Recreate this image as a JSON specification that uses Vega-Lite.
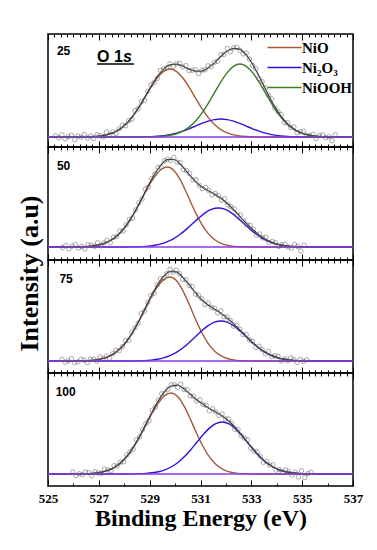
{
"$schema": "https://vega.github.io/schema/vega-lite/v6.json",
"background": "white",
"padding": {"left": 15, "top": 32, "right": 0, "bottom": 0},
"spacing": 0,
"bounds": "flush",
"datasets": {
"lines": [
{"p":"25","x":525,"NiO":0,"Ni2O3":0,"NiOOH":0,"fit":0},
{"p":"25","x":526.05,"NiO":0,"Ni2O3":0,"NiOOH":0,"fit":0},
{"p":"25","x":526.3,"NiO":0.1,"Ni2O3":0,"NiOOH":0,"fit":0.1},
{"p":"25","x":526.55,"NiO":0.2,"Ni2O3":0,"NiOOH":0,"fit":0.2},
{"p":"25","x":526.8,"NiO":0.5,"Ni2O3":0,"NiOOH":0,"fit":0.5},
{"p":"25","x":527.05,"NiO":1.0,"Ni2O3":0,"NiOOH":0,"fit":1.0},
{"p":"25","x":527.3,"NiO":2.1,"Ni2O3":0,"NiOOH":0,"fit":2.1},
{"p":"25","x":527.55,"NiO":4.1,"Ni2O3":0,"NiOOH":0,"fit":4.1},
{"p":"25","x":527.8,"NiO":7.4,"Ni2O3":0,"NiOOH":0,"fit":7.4},
{"p":"25","x":528.05,"NiO":12.4,"Ni2O3":0,"NiOOH":0,"fit":12.4},
{"p":"25","x":528.3,"NiO":19.6,"Ni2O3":0,"NiOOH":0,"fit":19.6},
{"p":"25","x":528.55,"NiO":28.6,"Ni2O3":0.1,"NiOOH":0,"fit":28.7},
{"p":"25","x":528.8,"NiO":39.1,"Ni2O3":0.2,"NiOOH":0.1,"fit":39.4},
{"p":"25","x":529.05,"NiO":49.8,"Ni2O3":0.4,"NiOOH":0.2,"fit":50.4},
{"p":"25","x":529.3,"NiO":59.2,"Ni2O3":0.8,"NiOOH":0.4,"fit":60.4},
{"p":"25","x":529.55,"NiO":65.7,"Ni2O3":1.4,"NiOOH":0.8,"fit":67.9},
{"p":"25","x":529.8,"NiO":68,"Ni2O3":2.4,"NiOOH":1.7,"fit":72.1},
{"p":"25","x":530.05,"NiO":65.7,"Ni2O3":3.9,"NiOOH":3.2,"fit":72.8},
{"p":"25","x":530.3,"NiO":59.2,"Ni2O3":5.8,"NiOOH":5.8,"fit":70.8},
{"p":"25","x":530.55,"NiO":49.8,"Ni2O3":8.2,"NiOOH":9.9,"fit":67.9},
{"p":"25","x":530.8,"NiO":39.1,"Ni2O3":10.9,"NiOOH":15.8,"fit":65.8},
{"p":"25","x":531.05,"NiO":28.6,"Ni2O3":13.6,"NiOOH":23.7,"fit":65.9},
{"p":"25","x":531.3,"NiO":19.6,"Ni2O3":15.9,"NiOOH":33.4,"fit":68.9},
{"p":"25","x":531.55,"NiO":12.4,"Ni2O3":17.4,"NiOOH":44.3,"fit":74.1},
{"p":"25","x":531.8,"NiO":7.4,"Ni2O3":18,"NiOOH":55.1,"fit":80.5},
{"p":"25","x":532.05,"NiO":4.1,"Ni2O3":17.4,"NiOOH":64.4,"fit":85.9},
{"p":"25","x":532.3,"NiO":2.1,"Ni2O3":15.9,"NiOOH":70.7,"fit":88.7},
{"p":"25","x":532.55,"NiO":1.0,"Ni2O3":13.6,"NiOOH":73,"fit":87.6},
{"p":"25","x":532.8,"NiO":0.5,"Ni2O3":10.9,"NiOOH":70.7,"fit":82.1},
{"p":"25","x":533.05,"NiO":0.2,"Ni2O3":8.2,"NiOOH":64.4,"fit":72.8},
{"p":"25","x":533.3,"NiO":0.1,"Ni2O3":5.8,"NiOOH":55.1,"fit":61.0},
{"p":"25","x":533.55,"NiO":0,"Ni2O3":3.9,"NiOOH":44.3,"fit":48.2},
{"p":"25","x":533.8,"NiO":0,"Ni2O3":2.4,"NiOOH":33.4,"fit":35.8},
{"p":"25","x":534.05,"NiO":0,"Ni2O3":1.4,"NiOOH":23.7,"fit":25.1},
{"p":"25","x":534.3,"NiO":0,"Ni2O3":0.8,"NiOOH":15.8,"fit":16.6},
{"p":"25","x":534.55,"NiO":0,"Ni2O3":0.4,"NiOOH":9.9,"fit":10.3},
{"p":"25","x":534.8,"NiO":0,"Ni2O3":0.2,"NiOOH":5.8,"fit":6.0},
{"p":"25","x":535.05,"NiO":0,"Ni2O3":0.1,"NiOOH":3.2,"fit":3.3},
{"p":"25","x":535.3,"NiO":0,"Ni2O3":0,"NiOOH":1.7,"fit":1.7},
{"p":"25","x":535.55,"NiO":0,"Ni2O3":0,"NiOOH":0.8,"fit":0.8},
{"p":"25","x":535.8,"NiO":0,"Ni2O3":0,"NiOOH":0.4,"fit":0.4},
{"p":"25","x":536.05,"NiO":0,"Ni2O3":0,"NiOOH":0.2,"fit":0.2},
{"p":"25","x":536.3,"NiO":0,"Ni2O3":0,"NiOOH":0.1,"fit":0.1},
{"p":"25","x":537,"NiO":0,"Ni2O3":0,"NiOOH":0,"fit":0},
{"p":"50","x":525,"NiO":0,"Ni2O3":0,"fit":0},
{"p":"50","x":525.7,"NiO":0,"Ni2O3":0,"fit":0},
{"p":"50","x":525.95,"NiO":0.1,"Ni2O3":0,"fit":0.1},
{"p":"50","x":526.2,"NiO":0.2,"Ni2O3":0,"fit":0.2},
{"p":"50","x":526.45,"NiO":0.4,"Ni2O3":0,"fit":0.4},
{"p":"50","x":526.7,"NiO":0.9,"Ni2O3":0,"fit":0.9},
{"p":"50","x":526.95,"NiO":1.8,"Ni2O3":0,"fit":1.8},
{"p":"50","x":527.2,"NiO":3.5,"Ni2O3":0,"fit":3.5},
{"p":"50","x":527.45,"NiO":6.4,"Ni2O3":0,"fit":6.4},
{"p":"50","x":527.7,"NiO":10.8,"Ni2O3":0,"fit":10.8},
{"p":"50","x":527.95,"NiO":17.3,"Ni2O3":0,"fit":17.3},
{"p":"50","x":528.2,"NiO":26.0,"Ni2O3":0.1,"fit":26.1},
{"p":"50","x":528.45,"NiO":36.6,"Ni2O3":0.2,"fit":36.8},
{"p":"50","x":528.7,"NiO":48.5,"Ni2O3":0.4,"fit":48.9},
{"p":"50","x":528.95,"NiO":60.4,"Ni2O3":0.9,"fit":61.8},
{"p":"50","x":529.2,"NiO":70.6,"Ni2O3":1.7,"fit":73.3},
{"p":"50","x":529.45,"NiO":77.5,"Ni2O3":3.1,"fit":82.1},
{"p":"50","x":529.7,"NiO":80,"Ni2O3":5.3,"fit":87.3},
{"p":"50","x":529.95,"NiO":76.6,"Ni2O3":8.4,"fit":87.5},
{"p":"50","x":530.2,"NiO":67.3,"Ni2O3":12.7,"fit":83.0},
{"p":"50","x":530.45,"NiO":54.2,"Ni2O3":17.9,"fit":75.6},
{"p":"50","x":530.7,"NiO":40.0,"Ni2O3":23.7,"fit":68.2},
{"p":"50","x":530.95,"NiO":27.1,"Ni2O3":29.4,"fit":62.0},
{"p":"50","x":531.2,"NiO":16.9,"Ni2O3":34.4,"fit":57.8},
{"p":"50","x":531.45,"NiO":9.6,"Ni2O3":37.8,"fit":54.4},
{"p":"50","x":531.7,"NiO":5.0,"Ni2O3":39,"fit":50.5},
{"p":"50","x":531.95,"NiO":2.4,"Ni2O3":37.8,"fit":45.7},
{"p":"50","x":532.2,"NiO":1.1,"Ni2O3":34.4,"fit":40.0},
{"p":"50","x":532.45,"NiO":0.4,"Ni2O3":29.4,"fit":33.3},
{"p":"50","x":532.7,"NiO":0.2,"Ni2O3":23.7,"fit":26.4},
{"p":"50","x":532.95,"NiO":0.1,"Ni2O3":17.9,"fit":20.0},
{"p":"50","x":533.2,"NiO":0,"Ni2O3":12.7,"fit":14.2},
{"p":"50","x":533.45,"NiO":0,"Ni2O3":8.4,"fit":9.4},
{"p":"50","x":533.7,"NiO":0,"Ni2O3":5.3,"fit":5.9},
{"p":"50","x":533.95,"NiO":0,"Ni2O3":3.1,"fit":3.4},
{"p":"50","x":534.2,"NiO":0,"Ni2O3":1.7,"fit":1.8},
{"p":"50","x":534.45,"NiO":0,"Ni2O3":0.9,"fit":0.9},
{"p":"50","x":534.7,"NiO":0,"Ni2O3":0.4,"fit":0.4},
{"p":"50","x":534.95,"NiO":0,"Ni2O3":0.2,"fit":0.2},
{"p":"50","x":535.2,"NiO":0,"Ni2O3":0.1,"fit":0.1},
{"p":"50","x":535.45,"NiO":0,"Ni2O3":0,"fit":0},
{"p":"50","x":537,"NiO":0,"Ni2O3":0,"fit":0},
{"p":"75","x":525,"NiO":0,"Ni2O3":0,"fit":0},
{"p":"75","x":525.8,"NiO":0,"Ni2O3":0,"fit":0},
{"p":"75","x":526.05,"NiO":0.1,"Ni2O3":0,"fit":0.1},
{"p":"75","x":526.3,"NiO":0.2,"Ni2O3":0,"fit":0.2},
{"p":"75","x":526.55,"NiO":0.4,"Ni2O3":0,"fit":0.4},
{"p":"75","x":526.8,"NiO":0.9,"Ni2O3":0,"fit":0.9},
{"p":"75","x":527.05,"NiO":1.9,"Ni2O3":0,"fit":1.9},
{"p":"75","x":527.3,"NiO":3.7,"Ni2O3":0,"fit":3.7},
{"p":"75","x":527.55,"NiO":6.7,"Ni2O3":0,"fit":6.7},
{"p":"75","x":527.8,"NiO":11.4,"Ni2O3":0,"fit":11.4},
{"p":"75","x":528.05,"NiO":18.2,"Ni2O3":0,"fit":18.2},
{"p":"75","x":528.3,"NiO":27.3,"Ni2O3":0.1,"fit":27.4},
{"p":"75","x":528.55,"NiO":38.5,"Ni2O3":0.2,"fit":38.7},
{"p":"75","x":528.8,"NiO":50.9,"Ni2O3":0.4,"fit":51.3},
{"p":"75","x":529.05,"NiO":63.4,"Ni2O3":0.9,"fit":64.3},
{"p":"75","x":529.3,"NiO":74.1,"Ni2O3":1.8,"fit":75.9},
{"p":"75","x":529.55,"NiO":81.4,"Ni2O3":3.2,"fit":84.6},
{"p":"75","x":529.8,"NiO":84,"Ni2O3":5.4,"fit":89.4},
{"p":"75","x":530.05,"NiO":80.5,"Ni2O3":8.7,"fit":89.2},
{"p":"75","x":530.3,"NiO":70.6,"Ni2O3":13.0,"fit":83.6},
{"p":"75","x":530.55,"NiO":57.0,"Ni2O3":18.3,"fit":76.3},
{"p":"75","x":530.8,"NiO":42.0,"Ni2O3":24.3,"fit":68.3},
{"p":"75","x":531.05,"NiO":28.5,"Ni2O3":30.2,"fit":61.2},
{"p":"75","x":531.3,"NiO":17.7,"Ni2O3":35.3,"fit":56.0},
{"p":"75","x":531.55,"NiO":10.1,"Ni2O3":38.8,"fit":51.9},
{"p":"75","x":531.8,"NiO":5.3,"Ni2O3":40,"fit":47.8},
{"p":"75","x":532.05,"NiO":2.5,"Ni2O3":38.8,"fit":42.8},
{"p":"75","x":532.3,"NiO":1.1,"Ni2O3":35.3,"fit":37.4},
{"p":"75","x":532.55,"NiO":0.4,"Ni2O3":30.2,"fit":31.1},
{"p":"75","x":532.8,"NiO":0.2,"Ni2O3":24.3,"fit":24.5},
{"p":"75","x":533.05,"NiO":0.1,"Ni2O3":18.3,"fit":18.4},
{"p":"75","x":533.3,"NiO":0,"Ni2O3":13.0,"fit":13.0},
{"p":"75","x":533.55,"NiO":0,"Ni2O3":8.7,"fit":8.7},
{"p":"75","x":533.8,"NiO":0,"Ni2O3":5.4,"fit":5.4},
{"p":"75","x":534.05,"NiO":0,"Ni2O3":3.2,"fit":3.2},
{"p":"75","x":534.3,"NiO":0,"Ni2O3":1.8,"fit":1.8},
{"p":"75","x":534.55,"NiO":0,"Ni2O3":0.9,"fit":0.9},
{"p":"75","x":534.8,"NiO":0,"Ni2O3":0.4,"fit":0.4},
{"p":"75","x":535.05,"NiO":0,"Ni2O3":0.2,"fit":0.2},
{"p":"75","x":535.3,"NiO":0,"Ni2O3":0.1,"fit":0.1},
{"p":"75","x":535.55,"NiO":0,"Ni2O3":0,"fit":0},
{"p":"75","x":537,"NiO":0,"Ni2O3":0,"fit":0},
{"p":"100","x":525,"NiO":0,"Ni2O3":0,"fit":0},
{"p":"100","x":525.85,"NiO":0,"Ni2O3":0,"fit":0},
{"p":"100","x":526.1,"NiO":0.1,"Ni2O3":0,"fit":0.1},
{"p":"100","x":526.35,"NiO":0.2,"Ni2O3":0,"fit":0.2},
{"p":"100","x":526.6,"NiO":0.4,"Ni2O3":0,"fit":0.4},
{"p":"100","x":526.85,"NiO":0.9,"Ni2O3":0,"fit":0.9},
{"p":"100","x":527.1,"NiO":1.8,"Ni2O3":0,"fit":1.8},
{"p":"100","x":527.35,"NiO":3.6,"Ni2O3":0,"fit":3.6},
{"p":"100","x":527.6,"NiO":6.4,"Ni2O3":0,"fit":6.4},
{"p":"100","x":527.85,"NiO":11.0,"Ni2O3":0,"fit":11.0},
{"p":"100","x":528.1,"NiO":17.5,"Ni2O3":0,"fit":17.5},
{"p":"100","x":528.35,"NiO":26.3,"Ni2O3":0.1,"fit":26.4},
{"p":"100","x":528.6,"NiO":37.1,"Ni2O3":0.3,"fit":37.4},
{"p":"100","x":528.85,"NiO":49.1,"Ni2O3":0.6,"fit":49.7},
{"p":"100","x":529.1,"NiO":61.1,"Ni2O3":1.2,"fit":62.3},
{"p":"100","x":529.35,"NiO":71.5,"Ni2O3":2.3,"fit":73.8},
{"p":"100","x":529.6,"NiO":78.5,"Ni2O3":4.1,"fit":82.6},
{"p":"100","x":529.85,"NiO":81,"Ni2O3":7.0,"fit":88.0},
{"p":"100","x":530.1,"NiO":77.6,"Ni2O3":11.2,"fit":88.8},
{"p":"100","x":530.35,"NiO":68.1,"Ni2O3":16.9,"fit":85.0},
{"p":"100","x":530.6,"NiO":54.9,"Ni2O3":23.8,"fit":79.7},
{"p":"100","x":530.85,"NiO":40.5,"Ni2O3":31.5,"fit":74.0},
{"p":"100","x":531.1,"NiO":27.5,"Ni2O3":39.2,"fit":69.7},
{"p":"100","x":531.35,"NiO":17.1,"Ni2O3":45.9,"fit":65.5},
{"p":"100","x":531.6,"NiO":9.7,"Ni2O3":50.4,"fit":62.1},
{"p":"100","x":531.85,"NiO":5.1,"Ni2O3":52,"fit":58.1},
{"p":"100","x":532.1,"NiO":2.4,"Ni2O3":50.4,"fit":53.3},
{"p":"100","x":532.35,"NiO":1.1,"Ni2O3":45.9,"fit":47.0},
{"p":"100","x":532.6,"NiO":0.4,"Ni2O3":39.2,"fit":39.6},
{"p":"100","x":532.85,"NiO":0.2,"Ni2O3":31.5,"fit":31.7},
{"p":"100","x":533.1,"NiO":0.1,"Ni2O3":23.8,"fit":23.9},
{"p":"100","x":533.35,"NiO":0,"Ni2O3":16.9,"fit":16.9},
{"p":"100","x":533.6,"NiO":0,"Ni2O3":11.2,"fit":11.2},
{"p":"100","x":533.85,"NiO":0,"Ni2O3":7.0,"fit":7.0},
{"p":"100","x":534.1,"NiO":0,"Ni2O3":4.1,"fit":4.1},
{"p":"100","x":534.35,"NiO":0,"Ni2O3":2.3,"fit":2.3},
{"p":"100","x":534.6,"NiO":0,"Ni2O3":1.2,"fit":1.2},
{"p":"100","x":534.85,"NiO":0,"Ni2O3":0.6,"fit":0.6},
{"p":"100","x":535.1,"NiO":0,"Ni2O3":0.3,"fit":0.3},
{"p":"100","x":535.35,"NiO":0,"Ni2O3":0.1,"fit":0.1},
{"p":"100","x":535.6,"NiO":0,"Ni2O3":0,"fit":0},
{"p":"100","x":537,"NiO":0,"Ni2O3":0,"fit":0}
],
"pts": [
{"p":"25","x":525.3,"y":1.2},{"p":"25","x":525.425,"y":-0.8},{"p":"25","x":525.55,"y":2.1},{"p":"25","x":525.675,"y":-1.9},{"p":"25","x":525.8,"y":0.4},{"p":"25","x":525.925,"y":1.8},{"p":"25","x":526.05,"y":-2.6},{"p":"25","x":526.175,"y":1.0},{"p":"25","x":526.3,"y":-0.2},{"p":"25","x":526.425,"y":2.6},{"p":"25","x":526.55,"y":-1.0},{"p":"25","x":526.675,"y":1.0},{"p":"25","x":526.8,"y":-1.5},{"p":"25","x":526.925,"y":2.3},{"p":"25","x":527.05,"y":1.2},{"p":"25","x":527.175,"y":0.2},{"p":"25","x":527.3,"y":4.8},{"p":"25","x":527.425,"y":2.5},{"p":"25","x":527.55,"y":5.1},{"p":"25","x":527.675,"y":3.5},{"p":"25","x":527.8,"y":8.1},{"p":"25","x":527.925,"y":11.8},{"p":"25","x":528.05,"y":11.3},{"p":"25","x":528.175,"y":16.3},{"p":"25","x":528.3,"y":17.9},{"p":"25","x":528.425,"y":26.4},{"p":"25","x":528.55,"y":28.3},{"p":"25","x":528.675,"y":35.3},{"p":"25","x":528.8,"y":36.9},{"p":"25","x":528.925,"y":45.7},{"p":"25","x":529.05,"y":52.0},{"p":"25","x":529.175,"y":54.5},{"p":"25","x":529.3,"y":58.6},{"p":"25","x":529.425,"y":66.7},{"p":"25","x":529.55,"y":68.0},{"p":"25","x":529.675,"y":69.0},{"p":"25","x":529.8,"y":73.2},{"p":"25","x":529.925,"y":70.5},{"p":"25","x":530.05,"y":73.3},{"p":"25","x":530.175,"y":73.6},{"p":"25","x":530.3,"y":70.1},{"p":"25","x":530.425,"y":71.4},{"p":"25","x":530.55,"y":66.3},{"p":"25","x":530.675,"y":66.8},{"p":"25","x":530.8,"y":67.2},{"p":"25","x":530.925,"y":63.4},{"p":"25","x":531.05,"y":66.8},{"p":"25","x":531.175,"y":67.2},{"p":"25","x":531.3,"y":71.2},{"p":"25","x":531.425,"y":70.5},{"p":"25","x":531.55,"y":74.7},{"p":"25","x":531.675,"y":75.8},{"p":"25","x":531.8,"y":82.3},{"p":"25","x":531.925,"y":82.7},{"p":"25","x":532.05,"y":88.5},{"p":"25","x":532.175,"y":85.2},{"p":"25","x":532.3,"y":89.0},{"p":"25","x":532.425,"y":89.6},{"p":"25","x":532.55,"y":86.8},{"p":"25","x":532.675,"y":83.1},{"p":"25","x":532.8,"y":84.1},{"p":"25","x":532.925,"y":77.9},{"p":"25","x":533.05,"y":71.6},{"p":"25","x":533.175,"y":68.4},{"p":"25","x":533.3,"y":58.3},{"p":"25","x":533.425,"y":55.3},{"p":"25","x":533.55,"y":49.2},{"p":"25","x":533.675,"y":41.7},{"p":"25","x":533.8,"y":38.0},{"p":"25","x":533.925,"y":29.1},{"p":"25","x":534.05,"y":25.3},{"p":"25","x":534.175,"y":22.5},{"p":"25","x":534.3,"y":14.6},{"p":"25","x":534.425,"y":14.3},{"p":"25","x":534.55,"y":9.7},{"p":"25","x":534.675,"y":10.1},{"p":"25","x":534.8,"y":4.3},{"p":"25","x":534.925,"y":5.2},{"p":"25","x":535.05,"y":5.7},{"p":"25","x":535.175,"y":1.4},{"p":"25","x":535.3,"y":1.3},{"p":"25","x":535.425,"y":2.6},{"p":"25","x":535.55,"y":-1.5},{"p":"25","x":535.675,"y":1.5},{"p":"25","x":535.8,"y":2.1},{"p":"25","x":535.925,"y":-0.6},{"p":"25","x":536.05,"y":0.3},{"p":"25","x":536.175,"y":-3.5},{"p":"25","x":536.3,"y":2.2},
{"p":"50","x":525.575,"y":-0.5},{"p":"50","x":525.7,"y":1.4},{"p":"50","x":525.825,"y":-1.8},{"p":"50","x":525.95,"y":0.8},{"p":"50","x":526.075,"y":2.4},{"p":"50","x":526.2,"y":-0.9},{"p":"50","x":526.325,"y":0.6},{"p":"50","x":526.45,"y":-2.0},{"p":"50","x":526.575,"y":2.3},{"p":"50","x":526.7,"y":1.8},{"p":"50","x":526.825,"y":0.7},{"p":"50","x":526.95,"y":4.3},{"p":"50","x":527.075,"y":1.2},{"p":"50","x":527.2,"y":3.9},{"p":"50","x":527.325,"y":6.8},{"p":"50","x":527.45,"y":4.3},{"p":"50","x":527.575,"y":9.7},{"p":"50","x":527.7,"y":10.5},{"p":"50","x":527.825,"y":16.1},{"p":"50","x":527.95,"y":16.0},{"p":"50","x":528.075,"y":22.3},{"p":"50","x":528.2,"y":27.6},{"p":"50","x":528.325,"y":28.9},{"p":"50","x":528.45,"y":37.0},{"p":"50","x":528.575,"y":44.1},{"p":"50","x":528.7,"y":48.0},{"p":"50","x":528.825,"y":57.8},{"p":"50","x":528.95,"y":60.1},{"p":"50","x":529.075,"y":68.4},{"p":"50","x":529.2,"y":72.9},{"p":"50","x":529.325,"y":79.6},{"p":"50","x":529.45,"y":79.9},{"p":"50","x":529.575,"y":86.2},{"p":"50","x":529.7,"y":87.8},{"p":"50","x":529.825,"y":86.5},{"p":"50","x":529.95,"y":89.6},{"p":"50","x":530.075,"y":84.9},{"p":"50","x":530.2,"y":84.3},{"p":"50","x":530.325,"y":77.3},{"p":"50","x":530.45,"y":76.3},{"p":"50","x":530.575,"y":73.5},{"p":"50","x":530.7,"y":67.2},{"p":"50","x":530.825,"y":67.4},{"p":"50","x":530.95,"y":61.8},{"p":"50","x":531.075,"y":58.3},{"p":"50","x":531.2,"y":59.5},{"p":"50","x":531.325,"y":56.5},{"p":"50","x":531.45,"y":52.1},{"p":"50","x":531.575,"y":53.6},{"p":"50","x":531.7,"y":51.4},{"p":"50","x":531.825,"y":46.9},{"p":"50","x":531.95,"y":48.3},{"p":"50","x":532.075,"y":42.1},{"p":"50","x":532.2,"y":40.3},{"p":"50","x":532.325,"y":38.1},{"p":"50","x":532.45,"y":31.4},{"p":"50","x":532.575,"y":31.9},{"p":"50","x":532.7,"y":25.9},{"p":"50","x":532.825,"y":22.1},{"p":"50","x":532.95,"y":21.8},{"p":"50","x":533.075,"y":17.7},{"p":"50","x":533.2,"y":11.8},{"p":"50","x":533.325,"y":13.0},{"p":"50","x":533.45,"y":9.1},{"p":"50","x":533.575,"y":9.9},{"p":"50","x":533.7,"y":4.4},{"p":"50","x":533.825,"y":5.5},{"p":"50","x":533.95,"y":4.4},{"p":"50","x":534.075,"y":0.6},{"p":"50","x":534.2,"y":2.3},{"p":"50","x":534.325,"y":2.9},{"p":"50","x":534.45,"y":0.0},{"p":"50","x":534.575,"y":-1.1},{"p":"50","x":534.7,"y":2.7},{"p":"50","x":534.825,"y":0.5},{"p":"50","x":534.95,"y":-4.0},{"p":"50","x":535.075,"y":1.8},
{"p":"75","x":525.55,"y":1.6},{"p":"75","x":525.675,"y":-1.2},{"p":"75","x":525.8,"y":0.2},{"p":"75","x":525.925,"y":2.4},{"p":"75","x":526.05,"y":-1.6},{"p":"75","x":526.175,"y":-0.8},{"p":"75","x":526.3,"y":1.7},{"p":"75","x":526.425,"y":0.8},{"p":"75","x":526.55,"y":-1.6},{"p":"75","x":526.675,"y":1.7},{"p":"75","x":526.8,"y":1.7},{"p":"75","x":526.925,"y":-0.1},{"p":"75","x":527.05,"y":4.1},{"p":"75","x":527.175,"y":2.5},{"p":"75","x":527.3,"y":4.9},{"p":"75","x":527.425,"y":2.8},{"p":"75","x":527.55,"y":7.3},{"p":"75","x":527.675,"y":10.9},{"p":"75","x":527.8,"y":10.3},{"p":"75","x":527.925,"y":14.3},{"p":"75","x":528.05,"y":20.2},{"p":"75","x":528.175,"y":20.9},{"p":"75","x":528.3,"y":28.8},{"p":"75","x":528.425,"y":33.4},{"p":"75","x":528.55,"y":37.9},{"p":"75","x":528.675,"y":47.6},{"p":"75","x":528.8,"y":50.1},{"p":"75","x":528.925,"y":58.7},{"p":"75","x":529.05,"y":65.4},{"p":"75","x":529.175,"y":67.8},{"p":"75","x":529.3,"y":76.3},{"p":"75","x":529.425,"y":82.0},{"p":"75","x":529.55,"y":83.0},{"p":"75","x":529.675,"y":87.3},{"p":"75","x":529.8,"y":91.7},{"p":"75","x":529.925,"y":88.8},{"p":"75","x":530.05,"y":90.8},{"p":"75","x":530.175,"y":87.3},{"p":"75","x":530.3,"y":81.6},{"p":"75","x":530.425,"y":81.3},{"p":"75","x":530.55,"y":75.7},{"p":"75","x":530.675,"y":74.4},{"p":"75","x":530.8,"y":66.9},{"p":"75","x":530.925,"y":65.3},{"p":"75","x":531.05,"y":62.2},{"p":"75","x":531.175,"y":56.4},{"p":"75","x":531.3,"y":57.9},{"p":"75","x":531.425,"y":53.6},{"p":"75","x":531.55,"y":52.7},{"p":"75","x":531.675,"y":48.2},{"p":"75","x":531.8,"y":50.2},{"p":"75","x":531.925,"y":44.4},{"p":"75","x":532.05,"y":44.0},{"p":"75","x":532.175,"y":40.3},{"p":"75","x":532.3,"y":34.8},{"p":"75","x":532.425,"y":35.8},{"p":"75","x":532.55,"y":31.7},{"p":"75","x":532.675,"y":26.5},{"p":"75","x":532.8,"y":26.5},{"p":"75","x":532.925,"y":21.2},{"p":"75","x":533.05,"y":19.5},{"p":"75","x":533.175,"y":13.6},{"p":"75","x":533.3,"y":14.8},{"p":"75","x":533.425,"y":11.3},{"p":"75","x":533.55,"y":7.2},{"p":"75","x":533.675,"y":9.6},{"p":"75","x":533.8,"y":4.7},{"p":"75","x":533.925,"y":5.2},{"p":"75","x":534.05,"y":4.8},{"p":"75","x":534.175,"y":0.1},{"p":"75","x":534.3,"y":2.1},{"p":"75","x":534.425,"y":0.3},{"p":"75","x":534.55,"y":3.1},{"p":"75","x":534.675,"y":1.4},{"p":"75","x":534.8,"y":-1.4},{"p":"75","x":534.925,"y":1.7},{"p":"75","x":535.05,"y":-0.3},{"p":"75","x":535.175,"y":1.2},
{"p":"100","x":525.975,"y":2.2},{"p":"100","x":526.1,"y":-1.5},{"p":"100","x":526.225,"y":0.3},{"p":"100","x":526.35,"y":-0.7},{"p":"100","x":526.475,"y":2.0},{"p":"100","x":526.6,"y":1.3},{"p":"100","x":526.725,"y":-1.7},{"p":"100","x":526.85,"y":2.2},{"p":"100","x":526.975,"y":1.0},{"p":"100","x":527.1,"y":0.7},{"p":"100","x":527.225,"y":5.1},{"p":"100","x":527.35,"y":4.1},{"p":"100","x":527.475,"y":3.3},{"p":"100","x":527.6,"y":8.3},{"p":"100","x":527.725,"y":8.1},{"p":"100","x":527.85,"y":11.8},{"p":"100","x":527.975,"y":12.3},{"p":"100","x":528.1,"y":19.1},{"p":"100","x":528.225,"y":22.2},{"p":"100","x":528.35,"y":25.0},{"p":"100","x":528.475,"y":34.1},{"p":"100","x":528.6,"y":37.1},{"p":"100","x":528.725,"y":44.6},{"p":"100","x":528.85,"y":50.4},{"p":"100","x":528.975,"y":53.3},{"p":"100","x":529.1,"y":63.8},{"p":"100","x":529.225,"y":66.9},{"p":"100","x":529.35,"y":74.2},{"p":"100","x":529.475,"y":80.2},{"p":"100","x":529.6,"y":80.7},{"p":"100","x":529.725,"y":85.0},{"p":"100","x":529.85,"y":89.2},{"p":"100","x":529.975,"y":89.2},{"p":"100","x":530.1,"y":86.7},{"p":"100","x":530.225,"y":89.7},{"p":"100","x":530.35,"y":84.5},{"p":"100","x":530.475,"y":84.2},{"p":"100","x":530.6,"y":78.2},{"p":"100","x":530.725,"y":77.5},{"p":"100","x":530.85,"y":73.0},{"p":"100","x":530.975,"y":74.2},{"p":"100","x":531.1,"y":69.5},{"p":"100","x":531.225,"y":68.5},{"p":"100","x":531.35,"y":63.1},{"p":"100","x":531.475,"y":65.2},{"p":"100","x":531.6,"y":62.1},{"p":"100","x":531.725,"y":58.5},{"p":"100","x":531.85,"y":60.1},{"p":"100","x":531.975,"y":55.0},{"p":"100","x":532.1,"y":55.0},{"p":"100","x":532.225,"y":50.7},{"p":"100","x":532.35,"y":44.8},{"p":"100","x":532.475,"y":44.4},{"p":"100","x":532.6,"y":38.3},{"p":"100","x":532.725,"y":35.8},{"p":"100","x":532.85,"y":34.2},{"p":"100","x":532.975,"y":26.0},{"p":"100","x":533.1,"y":23.0},{"p":"100","x":533.225,"y":22.0},{"p":"100","x":533.35,"y":17.7},{"p":"100","x":533.475,"y":11.6},{"p":"100","x":533.6,"y":12.5},{"p":"100","x":533.725,"y":8.7},{"p":"100","x":533.85,"y":9.2},{"p":"100","x":533.975,"y":3.9},{"p":"100","x":534.1,"y":4.4},{"p":"100","x":534.225,"y":2.1},{"p":"100","x":534.35,"y":4.2},{"p":"100","x":534.475,"y":2.5},{"p":"100","x":534.6,"y":-1.1},{"p":"100","x":534.725,"y":1.9},{"p":"100","x":534.85,"y":-3.0},{"p":"100","x":534.975,"y":3.2},{"p":"100","x":535.1,"y":-3.5},{"p":"100","x":535.225,"y":0.4},{"p":"100","x":535.35,"y":1.6}
]
},
"vconcat": [
{
"width": 305, "height": 113,
"layer": [
{
"data": {"name": "lines"},
"encoding": {"x": {"field": "x", "type": "quantitative", "title": null, "scale": {"domain": [525, 537], "nice": false, "zero": false},
  "axis": {"orient": "bottom", "values": [525,525.25,525.5,525.75,526,526.25,526.5,526.75,527,527.25,527.5,527.75,528,528.25,528.5,528.75,529,529.25,529.5,529.75,530,530.25,530.5,530.75,531,531.25,531.5,531.75,532,532.25,532.5,532.75,533,533.25,533.5,533.75,534,534.25,534.5,534.75,535,535.25,535.5,535.75,536,536.25,536.5,536.75,537], "labels": false, "domain": false, "grid": false, "tickSize": {"condition": {"test": "datum.value % 2 == 1", "value": -6}, "value": -3}}}},
"layer": [
{"transform": [{"filter": "datum.p == '25'"}, {"fold": ["NiO", "Ni2O3", "NiOOH"], "as": ["comp", "v"]}, {"filter": "isValid(datum.v)"}],
 "mark": {"type": "line", "interpolate": "monotone", "strokeWidth": 1.4},
 "encoding": {"y": {"field": "v", "type": "quantitative", "title": null, "scale": {"domain": [-10, 103], "nice": false, "zero": false}},
  "color": {"field": "comp", "type": "nominal", "scale": {"domain": ["NiO", "Ni2O3", "NiOOH"], "range": ["#a45a35", "#3311dd", "#3a7d22"]},
   "legend": {"orient": "none", "legendX": 227, "legendY": 4, "title": null, "symbolType": "M-2,0L2,0", "symbolSize": 289, "symbolStrokeWidth": 1.5, "labelFont": "Liberation Serif", "labelFontWeight": "bold", "labelFontSize": 15, "labelColor": "#000", "labelOffset": 8, "rowPadding": 2, "padding": 0, "labelExpr": "datum.label == 'Ni2O3' ? 'Ni₂O₃' : datum.label"}}}},
{"transform": [{"filter": "datum.p == '25'"}],
 "mark": {"type": "line", "interpolate": "monotone", "strokeWidth": 1.2, "color": "#3a3a3a"},
 "encoding": {"y": {"field": "fit", "type": "quantitative", "title": null}}},
{"transform": [{"filter": "datum.p == '25'"}],
 "mark": {"type": "line", "strokeWidth": 1.6, "color": "#8a3ae8"},
 "encoding": {"y": {"datum": 0, "type": "quantitative", "title": null}}},
{"transform": [{"filter": "datum.p == '25' && datum.x == 525"}],
 "mark": {"type": "text", "text": "25", "font": "Liberation Sans", "fontWeight": "bold", "fontSize": 12, "align": "left", "baseline": "middle", "color": "#000"},
 "encoding": {"x": {"datum": 525.35, "type": "quantitative"}, "y": {"datum": 86, "type": "quantitative"}}},
{"transform": [{"filter": "datum.p == '25' && datum.x == 525"}],
 "mark": {"type": "text", "text": "O 1", "font": "Liberation Sans", "fontWeight": "bold", "fontSize": 16, "align": "left", "baseline": "middle", "color": "#000"},
 "encoding": {"x": {"datum": 526.93, "type": "quantitative"}, "y": {"datum": 80, "type": "quantitative"}}},
{"transform": [{"filter": "datum.p == '25' && datum.x == 525"}],
 "mark": {"type": "text", "text": "s", "font": "Liberation Sans", "fontWeight": "bold", "fontStyle": "italic", "fontSize": 16, "align": "left", "baseline": "middle", "color": "#000", "dx": 26},
 "encoding": {"x": {"datum": 526.93, "type": "quantitative"}, "y": {"datum": 80, "type": "quantitative"}}},
{"transform": [{"filter": "datum.p == '25' && datum.x == 525"}],
 "mark": {"type": "rule", "color": "#000", "strokeWidth": 1.5},
 "encoding": {"x": {"datum": 526.93, "type": "quantitative"}, "x2": {"datum": 528.38}, "y": {"datum": 73, "type": "quantitative"}}}
]
},
{
"data": {"name": "pts"},
"transform": [{"filter": "datum.p == '25'"}],
"mark": {"type": "point", "shape": "circle", "filled": false, "size": 20, "stroke": "#666666", "strokeWidth": 0.8},
"encoding": {"x": {"field": "x", "type": "quantitative", "title": null, "scale": {"domain": [525, 537], "nice": false, "zero": false},
  "axis": {"orient": "top", "values": [525,525.25,525.5,525.75,526,526.25,526.5,526.75,527,527.25,527.5,527.75,528,528.25,528.5,528.75,529,529.25,529.5,529.75,530,530.25,530.5,530.75,531,531.25,531.5,531.75,532,532.25,532.5,532.75,533,533.25,533.5,533.75,534,534.25,534.5,534.75,535,535.25,535.5,535.75,536,536.25,536.5,536.75,537], "labels": false, "domain": false, "grid": false, "tickSize": {"condition": {"test": "datum.value % 2 == 1", "value": -6}, "value": -3}}},
 "y": {"field": "y", "type": "quantitative", "title": null}}
}
],
"resolve": {"scale": {"x": "independent"}}
},
{
"width": 305, "height": 113,
"layer": [
{
"data": {"name": "lines"},
"encoding": {"x": {"field": "x", "type": "quantitative", "title": null, "scale": {"domain": [525, 537], "nice": false, "zero": false},
  "axis": {"orient": "bottom", "values": [525,525.25,525.5,525.75,526,526.25,526.5,526.75,527,527.25,527.5,527.75,528,528.25,528.5,528.75,529,529.25,529.5,529.75,530,530.25,530.5,530.75,531,531.25,531.5,531.75,532,532.25,532.5,532.75,533,533.25,533.5,533.75,534,534.25,534.5,534.75,535,535.25,535.5,535.75,536,536.25,536.5,536.75,537], "labels": false, "domain": false, "grid": false, "tickSize": {"condition": {"test": "datum.value % 2 == 1", "value": -6}, "value": -3}}}},
"layer": [
{"transform": [{"filter": "datum.p == '50'"}, {"fold": ["NiO", "Ni2O3"], "as": ["comp", "v"]}, {"filter": "isValid(datum.v)"}],
 "mark": {"type": "line", "interpolate": "monotone", "strokeWidth": 1.4},
 "encoding": {"y": {"field": "v", "type": "quantitative", "title": "Intensity (a.u)", "scale": {"domain": [-13, 100], "nice": false, "zero": false}},
  "color": {"field": "comp", "type": "nominal", "scale": {"domain": ["NiO", "Ni2O3", "NiOOH"], "range": ["#a45a35", "#3311dd", "#3a7d22"]}, "legend": null}}},
{"transform": [{"filter": "datum.p == '50'"}],
 "mark": {"type": "line", "interpolate": "monotone", "strokeWidth": 1.2, "color": "#3a3a3a"},
 "encoding": {"y": {"field": "fit", "type": "quantitative", "title": "Intensity (a.u)"}}},
{"transform": [{"filter": "datum.p == '50'"}],
 "mark": {"type": "line", "strokeWidth": 1.6, "color": "#8a3ae8"},
 "encoding": {"y": {"datum": 0, "type": "quantitative", "title": "Intensity (a.u)"}}},
{"transform": [{"filter": "datum.p == '50' && datum.x == 525"}],
 "mark": {"type": "text", "text": "50", "font": "Liberation Sans", "fontWeight": "bold", "fontSize": 12, "align": "left", "baseline": "middle", "color": "#000"},
 "encoding": {"x": {"datum": 525.35, "type": "quantitative"}, "y": {"datum": 81.5, "type": "quantitative", "title": "Intensity (a.u)"}}}
]
},
{
"data": {"name": "pts"},
"transform": [{"filter": "datum.p == '50'"}],
"mark": {"type": "point", "shape": "circle", "filled": false, "size": 20, "stroke": "#666666", "strokeWidth": 0.8},
"encoding": {"x": {"field": "x", "type": "quantitative", "title": null, "scale": {"domain": [525, 537], "nice": false, "zero": false},
  "axis": {"orient": "top", "values": [525,525.25,525.5,525.75,526,526.25,526.5,526.75,527,527.25,527.5,527.75,528,528.25,528.5,528.75,529,529.25,529.5,529.75,530,530.25,530.5,530.75,531,531.25,531.5,531.75,532,532.25,532.5,532.75,533,533.25,533.5,533.75,534,534.25,534.5,534.75,535,535.25,535.5,535.75,536,536.25,536.5,536.75,537], "labels": false, "domain": false, "grid": false, "tickSize": {"condition": {"test": "datum.value % 2 == 1", "value": -6}, "value": -3}}},
 "y": {"field": "y", "type": "quantitative", "title": "Intensity (a.u)"}}
}
],
"resolve": {"scale": {"x": "independent"}}
},
{
"width": 305, "height": 113,
"layer": [
{
"data": {"name": "lines"},
"encoding": {"x": {"field": "x", "type": "quantitative", "title": null, "scale": {"domain": [525, 537], "nice": false, "zero": false},
  "axis": {"orient": "bottom", "values": [525,525.25,525.5,525.75,526,526.25,526.5,526.75,527,527.25,527.5,527.75,528,528.25,528.5,528.75,529,529.25,529.5,529.75,530,530.25,530.5,530.75,531,531.25,531.5,531.75,532,532.25,532.5,532.75,533,533.25,533.5,533.75,534,534.25,534.5,534.75,535,535.25,535.5,535.75,536,536.25,536.5,536.75,537], "labels": false, "domain": false, "grid": false, "tickSize": {"condition": {"test": "datum.value % 2 == 1", "value": -6}, "value": -3}}}},
"layer": [
{"transform": [{"filter": "datum.p == '75'"}, {"fold": ["NiO", "Ni2O3"], "as": ["comp", "v"]}, {"filter": "isValid(datum.v)"}],
 "mark": {"type": "line", "interpolate": "monotone", "strokeWidth": 1.4},
 "encoding": {"y": {"field": "v", "type": "quantitative", "title": null, "scale": {"domain": [-12, 101], "nice": false, "zero": false}},
  "color": {"field": "comp", "type": "nominal", "scale": {"domain": ["NiO", "Ni2O3", "NiOOH"], "range": ["#a45a35", "#3311dd", "#3a7d22"]}, "legend": null}}},
{"transform": [{"filter": "datum.p == '75'"}],
 "mark": {"type": "line", "interpolate": "monotone", "strokeWidth": 1.2, "color": "#3a3a3a"},
 "encoding": {"y": {"field": "fit", "type": "quantitative", "title": null}}},
{"transform": [{"filter": "datum.p == '75'"}],
 "mark": {"type": "line", "strokeWidth": 1.6, "color": "#8a3ae8"},
 "encoding": {"y": {"datum": 0, "type": "quantitative", "title": null}}},
{"transform": [{"filter": "datum.p == '75' && datum.x == 525"}],
 "mark": {"type": "text", "text": "75", "font": "Liberation Sans", "fontWeight": "bold", "fontSize": 12, "align": "left", "baseline": "middle", "color": "#000"},
 "encoding": {"x": {"datum": 525.45, "type": "quantitative"}, "y": {"datum": 82.5, "type": "quantitative"}}}
]
},
{
"data": {"name": "pts"},
"transform": [{"filter": "datum.p == '75'"}],
"mark": {"type": "point", "shape": "circle", "filled": false, "size": 20, "stroke": "#666666", "strokeWidth": 0.8},
"encoding": {"x": {"field": "x", "type": "quantitative", "title": null, "scale": {"domain": [525, 537], "nice": false, "zero": false},
  "axis": {"orient": "top", "values": [525,525.25,525.5,525.75,526,526.25,526.5,526.75,527,527.25,527.5,527.75,528,528.25,528.5,528.75,529,529.25,529.5,529.75,530,530.25,530.5,530.75,531,531.25,531.5,531.75,532,532.25,532.5,532.75,533,533.25,533.5,533.75,534,534.25,534.5,534.75,535,535.25,535.5,535.75,536,536.25,536.5,536.75,537], "labels": false, "domain": false, "grid": false, "tickSize": {"condition": {"test": "datum.value % 2 == 1", "value": -6}, "value": -3}}},
 "y": {"field": "y", "type": "quantitative", "title": null}}
}
],
"resolve": {"scale": {"x": "independent"}}
},
{
"width": 305, "height": 113,
"layer": [
{
"data": {"name": "lines"},
"encoding": {"x": {"field": "x", "type": "quantitative", "scale": {"domain": [525, 537], "nice": false, "zero": false},
  "axis": {"orient": "bottom", "title": "Binding Energy (eV)", "values": [525,525.25,525.5,525.75,526,526.25,526.5,526.75,527,527.25,527.5,527.75,528,528.25,528.5,528.75,529,529.25,529.5,529.75,530,530.25,530.5,530.75,531,531.25,531.5,531.75,532,532.25,532.5,532.75,533,533.25,533.5,533.75,534,534.25,534.5,534.75,535,535.25,535.5,535.75,536,536.25,536.5,536.75,537], "format": "d", "labelExpr": "datum.value % 2 == 1 ? datum.label : ''", "labelOverlap": false, "labelFlush": false, "labelBound": false, "labelFont": "Liberation Serif", "labelFontWeight": "bold", "labelFontSize": 13, "labelColor": "#000", "labelPadding": 12, "domain": false, "grid": false, "tickSize": {"condition": {"test": "datum.value % 2 == 1", "value": -6}, "value": -3}, "titleFont": "Liberation Serif", "titleFontSize": 24, "titleFontWeight": "bold", "titleColor": "#000", "titlePadding": -2}}},
"layer": [
{"transform": [{"filter": "datum.p == '100'"}, {"fold": ["NiO", "Ni2O3"], "as": ["comp", "v"]}, {"filter": "isValid(datum.v)"}],
 "mark": {"type": "line", "interpolate": "monotone", "strokeWidth": 1.4},
 "encoding": {"y": {"field": "v", "type": "quantitative", "title": null, "scale": {"domain": [-12, 101], "nice": false, "zero": false}},
  "color": {"field": "comp", "type": "nominal", "scale": {"domain": ["NiO", "Ni2O3", "NiOOH"], "range": ["#a45a35", "#3311dd", "#3a7d22"]}, "legend": null}}},
{"transform": [{"filter": "datum.p == '100'"}],
 "mark": {"type": "line", "interpolate": "monotone", "strokeWidth": 1.2, "color": "#3a3a3a"},
 "encoding": {"y": {"field": "fit", "type": "quantitative", "title": null}}},
{"transform": [{"filter": "datum.p == '100'"}],
 "mark": {"type": "line", "strokeWidth": 1.6, "color": "#8a3ae8"},
 "encoding": {"y": {"datum": 0, "type": "quantitative", "title": null}}},
{"transform": [{"filter": "datum.p == '100' && datum.x == 525"}],
 "mark": {"type": "text", "text": "100", "font": "Liberation Sans", "fontWeight": "bold", "fontSize": 12, "align": "left", "baseline": "middle", "color": "#000"},
 "encoding": {"x": {"datum": 525.3, "type": "quantitative"}, "y": {"datum": 82, "type": "quantitative"}}}
]
},
{
"data": {"name": "pts"},
"transform": [{"filter": "datum.p == '100'"}],
"mark": {"type": "point", "shape": "circle", "filled": false, "size": 20, "stroke": "#666666", "strokeWidth": 0.8},
"encoding": {"x": {"field": "x", "type": "quantitative", "title": null, "scale": {"domain": [525, 537], "nice": false, "zero": false},
  "axis": {"orient": "top", "values": [525,525.25,525.5,525.75,526,526.25,526.5,526.75,527,527.25,527.5,527.75,528,528.25,528.5,528.75,529,529.25,529.5,529.75,530,530.25,530.5,530.75,531,531.25,531.5,531.75,532,532.25,532.5,532.75,533,533.25,533.5,533.75,534,534.25,534.5,534.75,535,535.25,535.5,535.75,536,536.25,536.5,536.75,537], "labels": false, "domain": false, "grid": false, "tickSize": {"condition": {"test": "datum.value % 2 == 1", "value": -6}, "value": -3}}},
 "y": {"field": "y", "type": "quantitative", "title": null}}
}
],
"resolve": {"scale": {"x": "independent"}}
}
],
"config": {
"view": {"stroke": "#000", "strokeWidth": 1.5},
"axis": {"tickColor": "#000", "tickWidth": 1},
"axisY": {"ticks": false, "labels": false, "domain": false, "grid": false, "titleFont": "Liberation Serif", "titleFontSize": 26, "titleFontWeight": "bold", "titleColor": "#000", "titleY": 126, "titlePadding": 6}
}
}
